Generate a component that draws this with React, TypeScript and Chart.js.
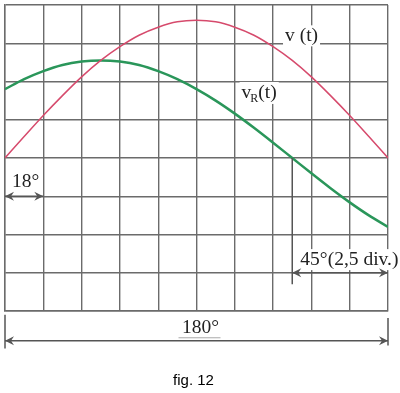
import React, { useEffect, useRef } from "react";
import { Chart, registerables } from "chart.js";

Chart.register(...registerables);

// phase angle in degrees (x axis, 18° per division)
const angles = [0, 9, 18, 27, 36, 45, 54, 63, 72, 81, 90, 99, 108, 117, 126, 135, 144, 153, 162, 171, 180];
// v(t) in divisions
const vValues = [0, 0.56, 1.11, 1.63, 2.12, 2.55, 2.91, 3.21, 3.42, 3.56, 3.6, 3.56, 3.42, 3.21, 2.91, 2.55, 2.12, 1.63, 1.11, 0.56, 0];
// vR(t) in divisions
const vRValues = [1.8, 2.06, 2.27, 2.43, 2.52, 2.55, 2.52, 2.43, 2.27, 2.06, 1.8, 1.5, 1.16, 0.79, 0.4, 0, -0.4, -0.79, -1.16, -1.5, -1.8];

const xTicks = [0, 180, 18];
const yTicks = [-4, 4, 1];

const GRID = "#6b6b6b";
const INK = "#555555";
const SERIF = '"Liberation Serif", "DejaVu Serif", serif';

function arrowHead(ctx: CanvasRenderingContext2D, x: number, y: number, dir: number) {
  ctx.beginPath();
  ctx.moveTo(x, y);
  ctx.lineTo(x - dir * 9, y - 4.5);
  ctx.lineTo(x - dir * 6, y);
  ctx.lineTo(x - dir * 9, y + 4.5);
  ctx.closePath();
  ctx.fill();
}

function hArrow(ctx: CanvasRenderingContext2D, x1: number, x2: number, y: number) {
  ctx.beginPath();
  ctx.moveTo(x1, y);
  ctx.lineTo(x2, y);
  ctx.stroke();
  arrowHead(ctx, x1, y, -1);
  arrowHead(ctx, x2, y, 1);
}

function boxedText(ctx: CanvasRenderingContext2D, text: string, x: number, y: number) {
  const w = ctx.measureText(text).width;
  ctx.fillStyle = "#ffffff";
  ctx.fillRect(x - 2, y - 16, w + 4, 21);
  ctx.fillStyle = "#222222";
  ctx.fillText(text, x, y);
}

const annotations = {
  id: "annotations",
  beforeDatasetsDraw(chart: any) {
    const ctx: CanvasRenderingContext2D = chart.ctx;
    const xs = chart.scales.x;
    const ys = chart.scales.y;
    const px = (v: number) => xs.getPixelForValue(v);
    const py = (v: number) => ys.getPixelForValue(v);
    ctx.save();
    ctx.font = `19.5px ${SERIF}`;
    ctx.textBaseline = "alphabetic";
    // v(t) label
    boxedText(ctx, "v (t)", px(131.6), py(3.05));
    // vR(t) label
    const lx = px(111.2);
    const ly = py(1.57);
    const w1 = ctx.measureText("v").width;
    ctx.font = `12px ${SERIF}`;
    const w2 = ctx.measureText("R").width;
    ctx.font = `19.5px ${SERIF}`;
    const w3 = ctx.measureText("(t)").width;
    ctx.fillStyle = "#ffffff";
    ctx.fillRect(lx - 2, ly - 16, w1 + w2 + w3 + 3, 22);
    ctx.fillStyle = "#222222";
    ctx.fillText("v", lx, ly);
    ctx.font = `12px ${SERIF}`;
    ctx.fillText("R", lx + w1 - 1, ly + 4);
    ctx.font = `19.5px ${SERIF}`;
    ctx.fillText("(t)", lx + w1 + w2 - 1, ly);
    // 18° label
    boxedText(ctx, "18°", px(3.3), py(-0.77));
    // 45° label
    boxedText(ctx, "45°(2,5 div.)", px(138.8), py(-2.8));
    ctx.restore();
  },
  afterDraw(chart: any) {
    const ctx: CanvasRenderingContext2D = chart.ctx;
    const xs = chart.scales.x;
    const ys = chart.scales.y;
    const px = (v: number) => xs.getPixelForValue(v);
    const py = (v: number) => ys.getPixelForValue(v);
    ctx.save();
    ctx.strokeStyle = INK;
    ctx.fillStyle = INK;
    ctx.lineWidth = 1.5;
    // 18° arrow
    hArrow(ctx, px(0), px(18), py(-1));
    // 45° marker and arrow
    ctx.beginPath();
    ctx.moveTo(px(135), py(0));
    ctx.lineTo(px(135), py(-3.3));
    ctx.stroke();
    hArrow(ctx, px(135), px(180), py(-3));
    // 180° dimension
    const yb = py(-4.78);
    ctx.beginPath();
    ctx.moveTo(px(0), py(-4.1));
    ctx.lineTo(px(0), py(-4.98));
    ctx.moveTo(px(180), py(-4.18));
    ctx.lineTo(px(180), py(-4.9));
    ctx.stroke();
    hArrow(ctx, px(0), px(180), yb);
    ctx.font = `19.5px ${SERIF}`;
    ctx.fillStyle = "#222222";
    ctx.textAlign = "center";
    ctx.fillText("180°", px(90) + 4, py(-4.58));
    ctx.strokeStyle = "#aaaaaa";
    ctx.lineWidth = 1;
    ctx.beginPath();
    ctx.moveTo(px(90) - 18, py(-4.7));
    ctx.lineTo(px(90) + 24, py(-4.7));
    ctx.stroke();
    // caption
    ctx.font = '15px "Liberation Sans", Arial, sans-serif';
    ctx.fillStyle = "#000000";
    ctx.fillText("fig. 12", px(90) - 3, 385);
    ctx.restore();
  },
};

export default function App() {
  const ref = useRef<HTMLCanvasElement | null>(null);
  useEffect(() => {
    if (!ref.current) return;
    const chart = new Chart(ref.current, {
      type: "line",
      data: {
        datasets: [
          {
            label: "v(t)",
            data: angles.map((a, i) => ({ x: a, y: vValues[i] })),
            borderColor: "#d64a6c",
            borderWidth: 1.5,
            pointRadius: 0,
            cubicInterpolationMode: "monotone",
            fill: false,
          },
          {
            label: "vR(t)",
            data: angles.map((a, i) => ({ x: a, y: vRValues[i] })),
            borderColor: "#2a965a",
            borderWidth: 2.5,
            pointRadius: 0,
            cubicInterpolationMode: "monotone",
            fill: false,
          },
        ],
      },
      options: {
        responsive: false,
        animation: false,
        layout: { padding: { left: 5, top: 5, right: 12, bottom: 82 } },
        plugins: { legend: { display: false }, tooltip: { enabled: false } },
        scales: {
          x: {
            type: "linear",
            min: xTicks[0],
            max: xTicks[1],
            ticks: { stepSize: xTicks[2], display: false },
            grid: { color: GRID, lineWidth: 1.4, drawTicks: false },
            border: { color: GRID, width: 1.4 },
            afterFit: (s: any) => { s.height = 0; },
          },
          y: {
            type: "linear",
            min: yTicks[0],
            max: yTicks[1],
            ticks: { stepSize: yTicks[2], display: false },
            grid: { color: GRID, lineWidth: 1.4, drawTicks: false },
            border: { color: GRID, width: 1.4 },
            afterFit: (s: any) => { s.width = 0; },
          },
        },
      },
      plugins: [annotations],
    });
    return () => chart.destroy();
  }, []);
  return (
    <div style={{ position: "fixed", left: 0, top: 0, width: 400, height: 393, background: "#fff" }}>
      <canvas ref={ref} width={400} height={393} />
    </div>
  );
}
